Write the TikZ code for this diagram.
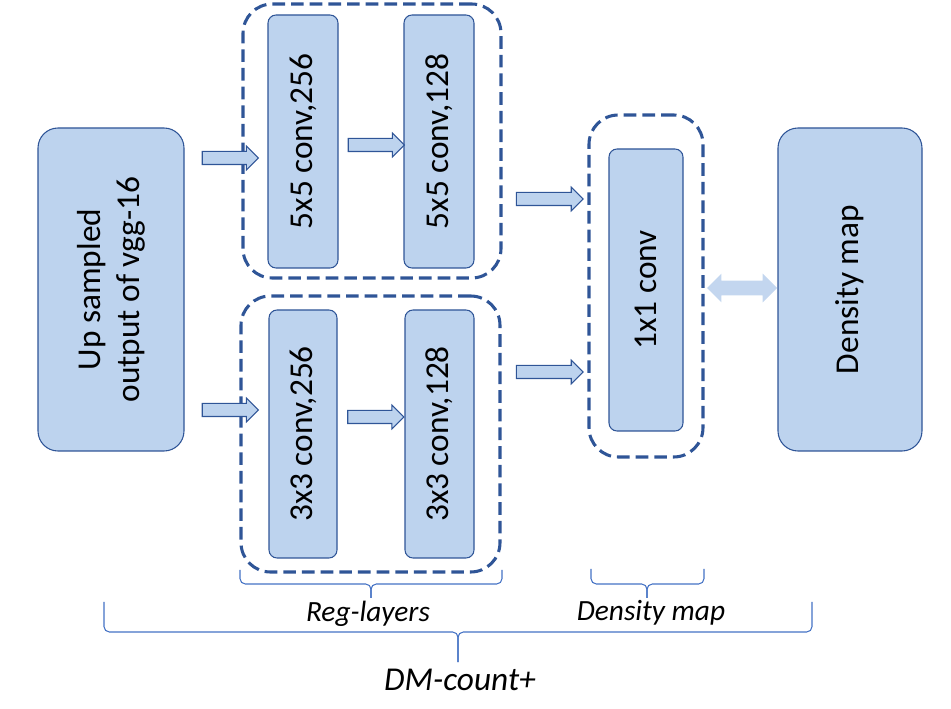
\documentclass[tikz,border=0pt]{standalone}
\usepackage{fontspec}
\setmainfont{Carlito}
\usetikzlibrary{positioning, shapes.arrows}
\definecolor{boxfill}{HTML}{BDD3EE}
\definecolor{boxline}{HTML}{2F5597}
\definecolor{bracecol}{HTML}{4472C4}
\definecolor{dblfill}{HTML}{C3D6EF}
\tikzset{
    %Define style for the blue blocks
    blk/.style={
           rectangle,
           rounded corners=6pt,
           draw=boxline, thick,
           fill=boxfill,
           inner sep=0pt,
           rotate=90,
           align=center,
           font=\fontsize{25}{29}\selectfont},
    %Define style for dashed groups
    grp/.style={
           rectangle,
           rounded corners=22pt,
           draw=boxline,
           line width=2.3pt,
           dash pattern=on 9.5pt off 4.5pt},
    % Define block arrow style
    barr/.style={
           single arrow,
           draw=boxline, thick,
           fill=boxfill,
           single arrow head extend=4pt,
           inner xsep=0pt,
           inner ysep=4.5pt},
    dblarr/.style={
           double arrow,
           fill=dblfill,
           double arrow head extend=5.25pt,
           inner xsep=0pt,
           inner ysep=5.25pt,
           minimum height=52.5pt},
    % Define brace style
    brc/.style={
           draw=bracecol,
           line width=0.8pt,
           rounded corners=4pt},
    lbl/.style={
           font=\itshape}
}
\begin{document}
\begin{tikzpicture}[x=0.75pt, y=-0.75pt]
    \useasboundingbox (0,0) rectangle (951,709);

    % GROUPS
    \node[grp, minimum width=193.5pt, minimum height=205.5pt] at (372,141) (regtop) {};
    \node[grp, minimum width=194.25pt, minimum height=207pt] at (370.5,434) (regbot) {};
    \node[grp, minimum width=85.5pt, minimum height=256.5pt] at (646,286) (dgrp) {};

    % BLOCKS
    \node[blk, rounded corners=15pt, minimum width=242.25pt, minimum height=109.5pt] at (111,289.5) (vgg) {Up sampled\\output of vgg-16};
    \node[blk, minimum width=189.75pt, minimum height=52.5pt] at (303,141.5) (convA) {5x5 conv,256};
    \node[blk, minimum width=189.75pt, minimum height=52.5pt] at (439,141.5) (convB) {5x5 conv,128};
    \node[blk, minimum width=186pt, minimum height=51pt] at (303,434) (convC) {3x3 conv,256};
    \node[blk, minimum width=186pt, minimum height=51.75pt] at (439.5,434) (convD) {3x3 conv,128};
    \node[blk, minimum width=211.5pt, minimum height=55.5pt] at (646,290) (conv1) {1x1 conv};
    \node[blk, rounded corners=15pt, minimum width=242.25pt, minimum height=108pt] at (850,289.5) (dmap) {Density map};

    % ARROWS
    \node[barr, minimum height=42pt] at (227,158) (inA) {};
    \node[barr, minimum height=42pt] at (373,145) (abA) {};
    \node[barr, minimum height=50pt] at (546.5,199) (outA) {};
    \node[barr, minimum height=42pt] at (227,410) (inC) {};
    \node[barr, minimum height=42pt] at (372.5,417) (cdC) {};
    \node[barr, minimum height=50pt] at (546.5,372) (outC) {};
    \node[dblarr] at (742,288) (cmp) {};

    % BRACES
    \draw[brc] (240,570) |- (371,584) -- (371,598);
    \draw[brc] (502,570) |- (371,584) -- (371,598);
    \draw[brc] (591,569) |- (647,584) -- (647,598);
    \draw[brc] (704,569) |- (647,584) -- (647,598);
    \draw[brc] (104,602) |- (458,632) -- (458,662);
    \draw[brc] (812,602) |- (458,632) -- (458,662);

    \node[lbl, font=\itshape\fontsize{22}{26}\selectfont] at (368,614) (reglbl) {Reg-layers};
    \node[lbl, font=\itshape\fontsize{22}{26}\selectfont] at (651,613) (dmlbl) {Density map};
    \node[lbl, font=\itshape\fontsize{25}{30}\selectfont] at (460,680) (totlbl) {DM-count+};

    \end{tikzpicture}
\end{document}
